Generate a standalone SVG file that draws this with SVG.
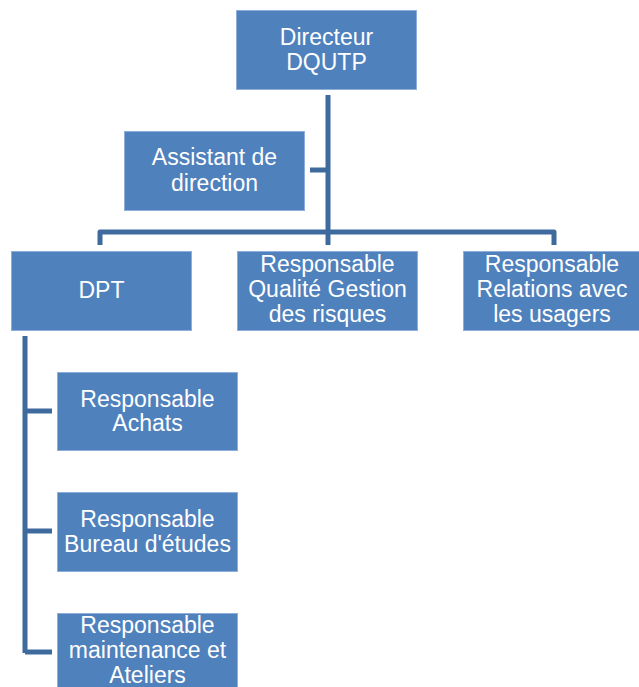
<svg xmlns="http://www.w3.org/2000/svg" width="639" height="687" viewBox="0 0 639 687">
<style>
.box{fill:#4f81bd;stroke:#8eaedb;stroke-width:1}
.t{font-family:"Liberation Sans",Arial,sans-serif;font-size:23px;fill:#ffffff;text-anchor:middle}
.c{fill:none;stroke:#3e6a9e;stroke-width:5;stroke-linejoin:round}
</style>
<rect width="639" height="687" fill="#ffffff"/>
<g id="connectors">
<path class="c" d="M328,95 V245"/>
<path class="c" d="M310,170 H328"/>
<path class="c" d="M100,245 V232 H554 V245"/>
<path class="c" d="M25,336 V653"/>
<path class="c" d="M25,411 H52"/>
<path class="c" d="M25,531 H52"/>
<path class="c" d="M25,652 H52"/>
</g>
<g id="directeur"><rect class="box" x="236.5" y="10.5" width="180" height="79"/>
<text class="t" x="326.5" y="45">Directeur</text><text class="t" x="326.5" y="70">DQUTP</text></g>
<g id="assistant"><rect class="box" x="124.5" y="131.5" width="180" height="79"/>
<text class="t" x="214.5" y="165">Assistant de</text><text class="t" x="214.5" y="191">direction</text></g>
<g id="dpt"><rect class="box" x="11.5" y="251.5" width="180" height="79"/>
<text class="t" x="101.5" y="298">DPT</text></g>
<g id="qualite"><rect class="box" x="237.5" y="251.5" width="180" height="79"/>
<text class="t" x="327.5" y="272">Responsable</text><text class="t" x="327.5" y="297">Qualité Gestion</text><text class="t" x="327.5" y="322">des risques</text></g>
<g id="relations"><rect class="box" x="463.5" y="251.5" width="180" height="79"/>
<text class="t" x="552" y="272">Responsable</text><text class="t" x="552" y="297">Relations avec</text><text class="t" x="552" y="322">les usagers</text></g>
<g id="achats"><rect class="box" x="57.5" y="372.5" width="180" height="78"/>
<text class="t" x="147.5" y="407">Responsable</text><text class="t" x="147.5" y="431">Achats</text></g>
<g id="bureau"><rect class="box" x="57.5" y="492.5" width="180" height="79"/>
<text class="t" x="147.5" y="527">Responsable</text><text class="t" x="147.5" y="552">Bureau d'études</text></g>
<g id="maintenance"><rect class="box" x="57.5" y="613.5" width="180" height="80"/>
<text class="t" x="147.5" y="633">Responsable</text><text class="t" x="147.5" y="658">maintenance et</text><text class="t" x="147.5" y="683">Ateliers</text></g>
</svg>
